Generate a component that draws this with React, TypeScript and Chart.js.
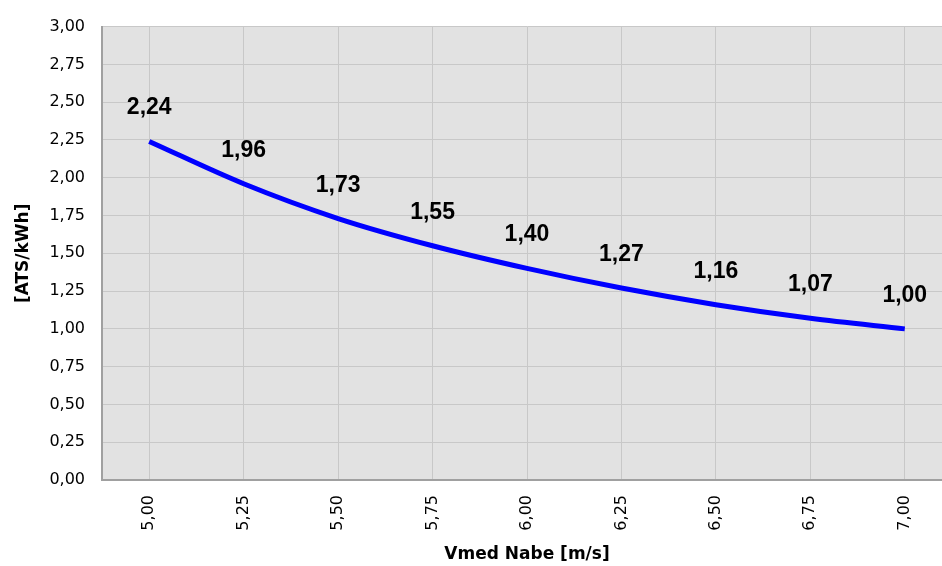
import React, { useEffect, useRef } from "react";
import { Chart, registerables } from "chart.js";

Chart.register(...registerables);

const windSpeeds = [5.0, 5.25, 5.5, 5.75, 6.0, 6.25, 6.5, 6.75, 7.0];
const costValues = [2.24, 1.96, 1.73, 1.55, 1.4, 1.27, 1.16, 1.07, 1.0];
const xTickValues = [5.0, 5.25, 5.5, 5.75, 6.0, 6.25, 6.5, 6.75, 7.0];
const yTickMax = 3.0;
const yTickStep = 0.25;

const fmt = (v: number) => v.toFixed(2).replace(".", ",");

const plotBackground = {
  id: "plotBackground",
  beforeDraw(chart: any) {
    const { ctx, chartArea } = chart;
    ctx.save();
    ctx.fillStyle = "#e2e2e2";
    ctx.fillRect(chartArea.left, chartArea.top, chartArea.right - chartArea.left, chartArea.bottom - chartArea.top);
    ctx.restore();
  },
};

const valueLabels = {
  id: "valueLabels",
  afterDatasetsDraw(chart: any) {
    const { ctx } = chart;
    const meta = chart.getDatasetMeta(0);
    ctx.save();
    ctx.font = "bold 23px 'Liberation Sans', Arial, sans-serif";
    ctx.fillStyle = "#000000";
    ctx.textAlign = "center";
    ctx.textBaseline = "alphabetic";
    meta.data.forEach((pt: any, i: number) => {
      ctx.fillText(fmt(costValues[i]), pt.x, pt.y - 27);
    });
    ctx.restore();
  },
};

export default function App() {
  const ref = useRef<HTMLCanvasElement | null>(null);

  useEffect(() => {
    if (!ref.current) return;
    const chart = new Chart(ref.current, {
      type: "line",
      data: {
        datasets: [
          {
            data: windSpeeds.map((x, i) => ({ x, y: costValues[i] })),
            borderColor: "#0000ff",
            borderWidth: 5,
            pointRadius: 0,
            cubicInterpolationMode: "monotone",
            fill: false,
          },
        ],
      },
      options: {
        animation: false,
        responsive: false,
        devicePixelRatio: 1,
        layout: { padding: { left: 0, top: 22, right: 0, bottom: 0 } },
        plugins: {
          legend: { display: false },
          tooltip: { enabled: false },
        },
        scales: {
          x: {
            type: "linear",
            min: 4.875,
            max: 7.125,
            afterBuildTicks: (scale: any) => {
              scale.ticks = xTickValues.map((v) => ({ value: v }));
            },
            afterFit: (scale: any) => {
              scale.height = 86;
            },
            ticks: {
              autoSkip: false,
              minRotation: 90,
              maxRotation: 90,
              padding: 15,
              color: "#000000",
              font: { family: "'DejaVu Sans', sans-serif", size: 16 },
              callback: (v: any) => fmt(Number(v)),
            },
            grid: { color: "#c8c8c8", lineWidth: 1, drawTicks: false },
            border: { color: "#a0a0a0", width: 2 },
            title: {
              display: true,
              text: "Vmed Nabe [m/s]",
              color: "#000000",
              font: { family: "'DejaVu Sans', sans-serif", size: 17, weight: "bold" },
              padding: { top: 0, bottom: 1 },
            },
          },
          y: {
            type: "linear",
            min: 0,
            max: yTickMax,
            afterFit: (scale: any) => {
              scale.width = 102;
            },
            ticks: {
              stepSize: yTickStep,
              padding: 17,
              color: "#000000",
              font: { family: "'DejaVu Sans', sans-serif", size: 16 },
              callback: (v: any) => fmt(Number(v)),
            },
            grid: { color: "#c8c8c8", lineWidth: 1, drawTicks: false },
            border: { color: "#a0a0a0", width: 2 },
            title: {
              display: true,
              text: "[ATS/kWh]",
              color: "#000000",
              font: { family: "'DejaVu Sans', sans-serif", size: 17, weight: "bold" },
              padding: { top: 13, bottom: 0 },
            },
          },
        },
      },
      plugins: [plotBackground, valueLabels],
    });
    return () => chart.destroy();
  }, []);

  return (
    <div style={{ position: "fixed", left: 0, top: 0, width: 942, height: 566, overflow: "hidden", background: "#ffffff" }}>
      <canvas ref={ref} width={952} height={566} style={{ width: 952, height: 566, display: "block" }} />
    </div>
  );
}
